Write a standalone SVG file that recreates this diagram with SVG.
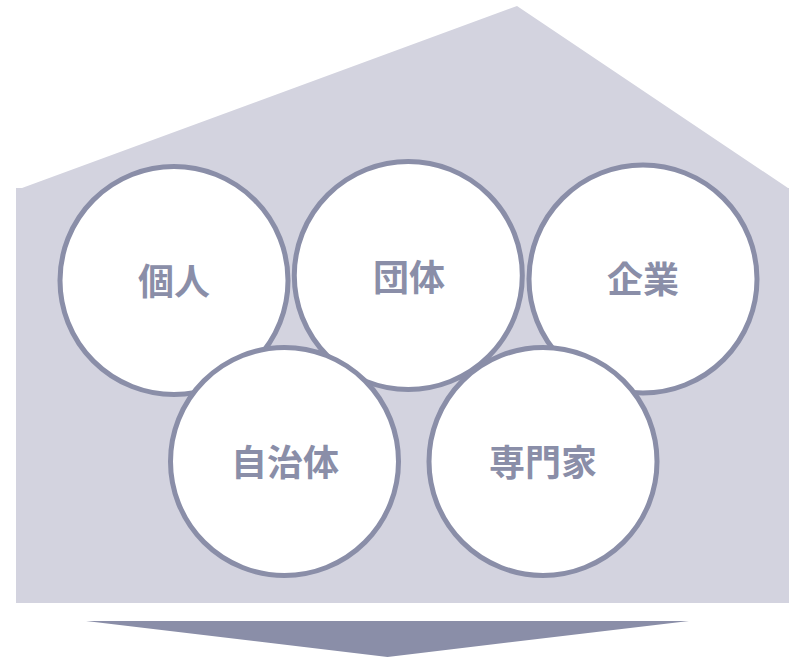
<svg xmlns="http://www.w3.org/2000/svg" width="789" height="657" viewBox="0 0 789 657">
<style>
.bg{fill:#d3d3df}
.arrow{fill:#8a8ea8}
.node circle{fill:#ffffff;stroke:#8a8ea8;stroke-width:5}
.node text{fill:#8a8ea8;font-family:"Noto Sans CJK JP","Noto Sans CJK SC",sans-serif;font-weight:bold;font-size:36px;text-anchor:middle}
</style>
<polygon class="bg" points="16,188 22,188 517,6 788,188 789,188 789,603 16,603"/>
<polygon class="arrow" points="86,621 689,621 387.5,657"/>
<g id="connectors"></g>
<g id="node-kojin" class="node">
<circle cx="174" cy="280.5" r="114"/>
<text x="174" y="295">個人</text>
</g>
<g id="node-dantai" class="node">
<circle cx="408.3" cy="275.5" r="114"/>
<text x="409" y="291">団体</text>
</g>
<g id="node-kigyo" class="node">
<circle cx="643" cy="279" r="114"/>
<text x="643" y="293">企業</text>
</g>
<g id="node-jichitai" class="node">
<circle cx="284.5" cy="461.5" r="114"/>
<text x="285" y="476">自治体</text>
</g>
<g id="node-senmonka" class="node">
<circle cx="543" cy="461.5" r="114"/>
<text x="543" y="476">専門家</text>
</g>
</svg>
